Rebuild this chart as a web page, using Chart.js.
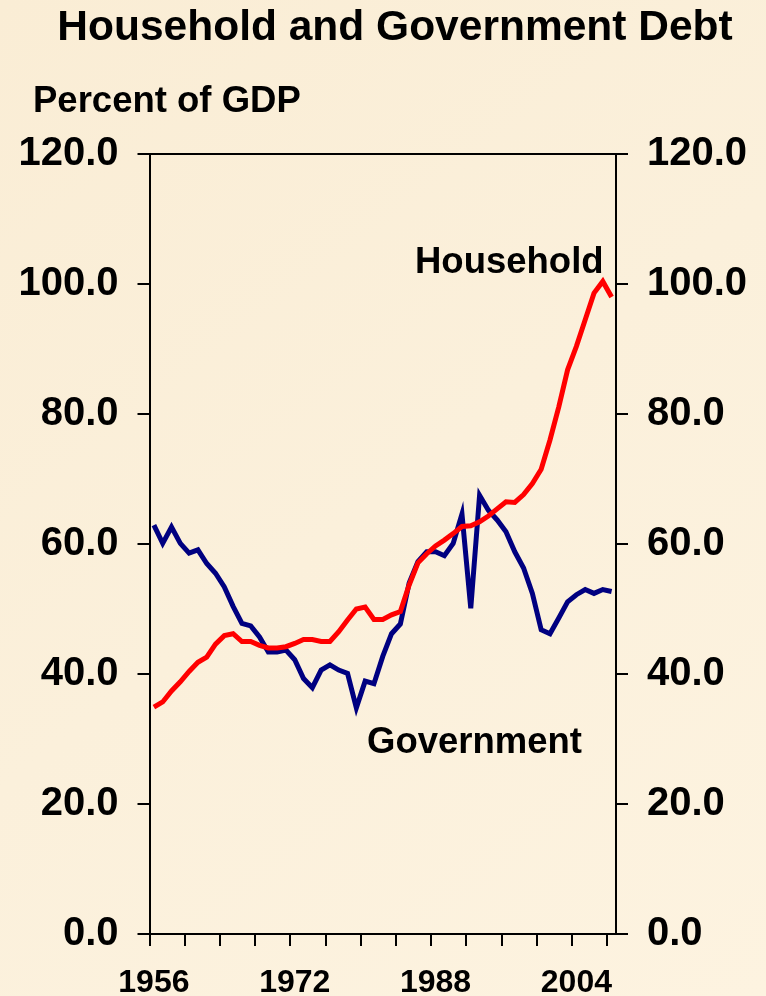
<!DOCTYPE html>
<html>
<head>
<meta charset="utf-8">
<script src="https://cdn.jsdelivr.net/npm/chart.js@4.4.1/dist/chart.umd.min.js"></script>
<style>
  html, body { margin: 0; padding: 0; background: #FBF0DB; }
  #wrap { width: 766px; height: 996px; position: relative; }
</style>
</head>
<body>
<div id="wrap"><canvas id="c" width="766" height="996"></canvas></div>
<script>
// ---- Data ----
const years = [
  '1956','1957','1958','1959','1960','1961','1962','1963','1964','1965',
  '1966','1967','1968','1969','1970','1971','1972','1973','1974','1975',
  '1976','1977','1978','1979','1980','1981','1982','1983','1984','1985',
  '1986','1987','1988','1989','1990','1991','1992','1993','1994','1995',
  '1996','1997','1998','1999','2000','2001','2002','2003','2004','2005',
  '2006','2007','2008'
];
const household = [
  34.9, 35.7, 37.4, 38.8, 40.4, 41.8, 42.6, 44.6, 45.9, 46.2,
  45.0, 45.0, 44.4, 44.0, 44.0, 44.2, 44.7, 45.3, 45.3, 45.0,
  45.0, 46.5, 48.3, 50.0, 50.3, 48.4, 48.4, 49.1, 49.6, 53.7,
  57.1, 58.5, 59.7, 60.6, 61.6, 62.7, 62.8, 63.4, 64.3, 65.4,
  66.5, 66.4, 67.6, 69.3, 71.5, 76.0, 81.1, 86.8, 90.4, 94.5,
  98.6, 100.4, 98.0
];
const government = [
  62.9, 60.1, 62.6, 60.1, 58.6, 59.1, 57.0, 55.5, 53.4, 50.4,
  47.8, 47.4, 45.7, 43.4, 43.4, 43.7, 42.2, 39.3, 37.9, 40.6,
  41.4, 40.6, 40.1, 34.8, 38.9, 38.5, 42.7, 46.2, 47.7, 54.0,
  57.3, 58.8, 58.8, 58.2, 60.1, 64.6, 50.1, 67.5, 65.2, 63.7,
  61.9, 58.8, 56.3, 52.4, 46.8, 46.2, 48.6, 51.1, 52.2, 53.0,
  52.4, 53.0, 52.7
];
const yTicks = [0, 20, 40, 60, 80, 100, 120];
const xLabelYears = ['1956', '1972', '1988', '2004'];
const titleText = 'Household and Government Debt';
const unitText = 'Percent of GDP';
const seriesNames = ['Household', 'Government'];

const FONT = "'Liberation Sans', Arial, Helvetica, sans-serif";
Chart.defaults.font.family = FONT;
Chart.defaults.color = '#000';

const bgPlugin = {
  id: 'bg',
  beforeDraw(chart) {
    const { ctx, width, height } = chart;
    ctx.save();
    const g = ctx.createLinearGradient(0, 0, width, height);
    g.addColorStop(0, '#FAEDD5');
    g.addColorStop(0.5, '#FBF0DB');
    g.addColorStop(1, '#FDF3E0');
    ctx.fillStyle = g;
    ctx.fillRect(0, 0, width, height);
    ctx.restore();
  }
};

const textPlugin = {
  id: 'texts',
  afterDraw(chart) {
    const { ctx } = chart;
    ctx.save();
    ctx.fillStyle = '#000';
    ctx.textBaseline = 'alphabetic';
    ctx.textAlign = 'center';
    ctx.font = 'bold 42.5px ' + FONT;
    ctx.fillText(titleText, 395, 40);
    ctx.textAlign = 'left';
    ctx.font = 'bold 36.5px ' + FONT;
    ctx.fillText(unitText, 33, 112);
    ctx.font = 'bold 36.5px ' + FONT;
    ctx.fillText(seriesNames[0], 415, 273);
    ctx.fillText(seriesNames[1], 367, 753);
    ctx.restore();
  }
};

const yTickFont = { size: 40, weight: 'bold', family: FONT };
const xTickFont = { size: 32, weight: 'bold', family: FONT };

new Chart(document.getElementById('c'), {
  type: 'line',
  data: {
    labels: years,
    datasets: [
      { label: seriesNames[0], data: household, borderColor: '#FF0000', borderWidth: 5,
        pointRadius: 0, tension: 0, yAxisID: 'y' },
      { label: seriesNames[1], data: government, borderColor: '#000080', borderWidth: 5,
        pointRadius: 0, tension: 0, yAxisID: 'y' }
    ]
  },
  options: {
    responsive: false,
    animation: false,
    devicePixelRatio: 1,
    layout: { padding: { top: 154, left: 0, right: 0, bottom: 0 } },
    plugins: { legend: { display: false }, title: { display: false }, tooltip: { enabled: false } },
    scales: {
      x: {
        type: 'category',
        offset: true,
        grid: {
          offset: true,
          drawOnChartArea: false,
          tickLength: 12,
          lineWidth: 2,
          color: (c) => (c.index % 4 === 0 ? '#000' : 'rgba(0,0,0,0)')
        },
        border: { display: true, color: '#000', width: 2 },
        ticks: {
          autoSkip: false,
          maxRotation: 0,
          minRotation: 0,
          padding: 18,
          font: xTickFont,
          color: '#000',
          callback: function (v, i) {
            const lab = this.getLabelForValue(v);
            return xLabelYears.includes(lab) ? lab : '';
          }
        },
        afterFit(s) { s.height = 62; }
      },
      y: {
        position: 'left',
        min: 0, max: 120,
        afterBuildTicks(s) { s.ticks = yTicks.map(v => ({ value: v })); },
        grid: {
          drawOnChartArea: true,
          tickLength: 12,
          lineWidth: 2,
          color: (c) => (c.tick && c.tick.value === 120 ? '#000' : 'rgba(0,0,0,0)'),
          tickColor: '#000'
        },
        border: { display: true, color: '#000', width: 2 },
        ticks: { font: yTickFont, color: '#000', padding: 19, callback: (v) => Number(v).toFixed(1) },
        afterFit(s) { s.width = 149.5; }
      },
      y2: {
        position: 'right',
        min: 0, max: 120,
        afterBuildTicks(s) { s.ticks = yTicks.map(v => ({ value: v })); },
        grid: { drawOnChartArea: false, tickLength: 12, lineWidth: 2, color: '#000' },
        border: { display: true, color: '#000', width: 2 },
        ticks: { font: yTickFont, color: '#000', padding: 19, callback: (v) => Number(v).toFixed(1) },
        afterFit(s) { s.width = 150; }
      }
    }
  },
  plugins: [bgPlugin, textPlugin]
});
</script>
</body>
</html>
